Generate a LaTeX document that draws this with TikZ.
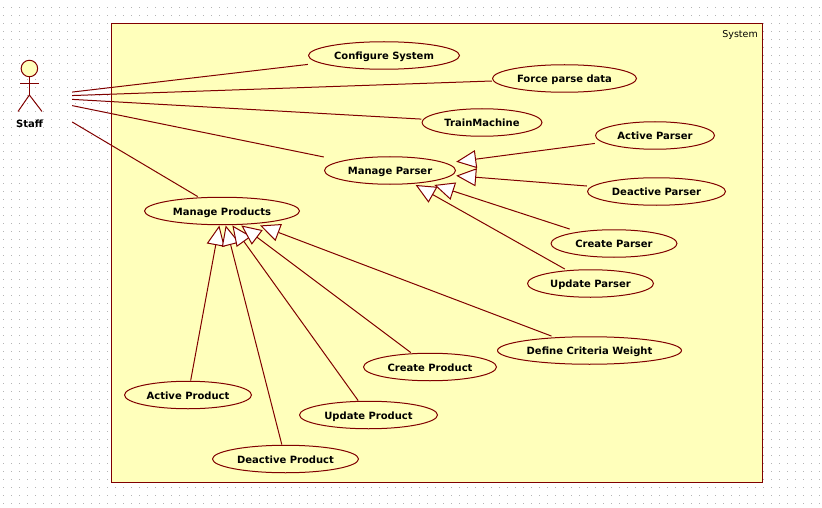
\documentclass[tikz,border=0pt]{standalone}
\usepackage{fontspec}
\setmainfont{DejaVu Sans}
\usepackage{xcolor}
\usetikzlibrary{positioning}
\usetikzlibrary{arrows.meta}
\definecolor{umlline}{HTML}{800000}
\definecolor{umlfill}{HTML}{FFFFBB}
\definecolor{griddot}{HTML}{B4B4B4}
\tikzset{
  usecase/.style={rectangle,inner sep=0pt,minimum width=#1,minimum height=28.5pt,text height=10pt,text depth=2pt,font=\fontsize{10}{12}\selectfont\bfseries,
    path picture={\draw[umlline,fill=umlfill,line width=1pt] (path picture bounding box.center) ellipse [x radius={(#1)/2-0.5pt},y radius=13.75pt];}},
  assoc/.style={draw=umlline,line width=1pt},
  generalize/.style={draw=umlline,line width=1pt,-{Triangle[open,fill=white,length=20pt,width=18pt]}}
}
\begin{document}
\begin{tikzpicture}[x=1pt,y=-1pt,node distance=3cm,on grid,auto]
  \useasboundingbox (0,0) rectangle (822,508);
  \foreach \x in {3,11,...,819}
    \foreach \y in {7,15,...,503}
      \fill[griddot] (\x,\y) rectangle ++(1,1);
  \node[draw=umlline,fill=umlfill,line width=1pt,minimum width=650.5pt,minimum height=459pt] (systemBox) at (436.75,253.3) {};
  \node[anchor=base east,inner sep=0pt,font=\fontsize{9.5}{12}\selectfont] (systemLabel) at (758,38) {System};
  % actor
  \node[minimum width=84pt,minimum height=84pt,inner sep=0pt] (staff) at (30,97) {};
  \node[circle,draw=umlline,fill=umlfill,line width=1pt,minimum size=16.5pt,inner sep=0pt] (staffHead) at (29.4,68.5) {};
  \coordinate (staffHip) at (29.4,95);
  \coordinate (staffArmL) at (20,83.5);
  \coordinate (staffArmR) at (39,83.5);
  \coordinate (staffFootL) at (18,111.5);
  \coordinate (staffFootR) at (42,111.5);
  \draw[assoc] (staffHead) -- (staffHip);
  \draw[assoc] (staffArmL) -- (staffArmR);
  \draw[assoc] (staffFootL) -- (staffHip) -- (staffFootR);
  \node[font=\fontsize{10}{12}\selectfont\bfseries,inner sep=0pt,text height=10pt,text depth=2pt] (staffLabel) at (29.5,124) {Staff};
  % use cases
  \node[usecase=132pt] (manageParser) at (390,170.5) {Manage Parser};
  \node[usecase=152pt] (configSystem) [above left=115pt and 6pt of manageParser] {Configure System};
  \node[usecase=145pt] (forceParse) [above right=92pt and 174.5pt of manageParser] {Force parse data};
  \node[usecase=121pt] (trainMachine) [above right=48pt and 92pt of manageParser] {TrainMachine};
  \node[usecase=120pt] (activeParser) [above right=35pt and 265pt of manageParser] {Active Parser};
  \node[usecase=139pt] (deactiveParser) [below right=21pt and 266.5pt of manageParser] {Deactive Parser};
  \node[usecase=127pt] (createParser) [below right=73pt and 224pt of manageParser] {Create Parser};
  \node[usecase=127pt] (updateParser) [below right=113pt and 200.5pt of manageParser] {Update Parser};
  \node[usecase=156pt] (manageProducts) [below left=40.5pt and 168pt of manageParser] {Manage Products};
  \node[usecase=128pt] (activeProduct) [below left=184pt and 34pt of manageProducts] {Active Product};
  \node[usecase=147pt] (deactiveProduct) [below right=248pt and 63.5pt of manageProducts] {Deactive Product};
  \node[usecase=139pt] (updateProduct) [below right=204pt and 146.5pt of manageProducts] {Update Product};
  \node[usecase=134pt] (createProduct) [below right=156pt and 208pt of manageProducts] {Create Product};
  \node[usecase=185pt] (defineCriteria) [below right=139.5pt and 367.5pt of manageProducts] {Define Criteria Weight};
  % associations
  \draw[assoc] (staff) edge (configSystem);
  \draw[assoc] (staff) edge (forceParse);
  \draw[assoc] (staff) edge (trainMachine);
  \draw[assoc] (staff) edge (manageParser);
  \draw[assoc] (staff) edge (manageProducts);
  % generalizations
  \draw[generalize] (activeParser) edge (manageParser);
  \draw[generalize] (deactiveParser) edge (manageParser);
  \draw[generalize] (createParser) edge (manageParser);
  \draw[generalize] (updateParser) edge (manageParser);
  \draw[generalize] (activeProduct) edge (manageProducts);
  \draw[generalize] (deactiveProduct) edge (manageProducts);
  \draw[generalize] (updateProduct) edge (manageProducts);
  \draw[generalize] (createProduct) edge (manageProducts);
  \draw[generalize] (defineCriteria) edge (manageProducts);
\end{tikzpicture}
\end{document}
